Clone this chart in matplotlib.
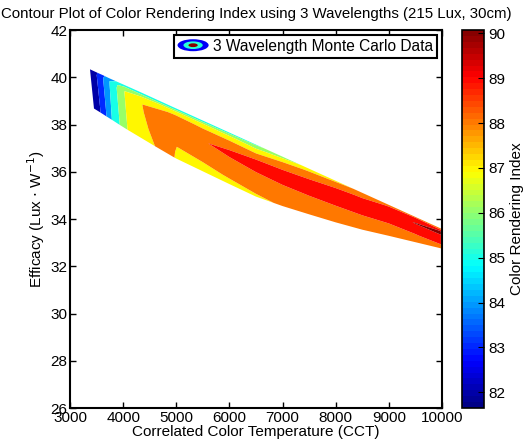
import numpy as np
import matplotlib
matplotlib.use('Agg')
from matplotlib import pyplot as plt
from matplotlib.patches import Ellipse
from matplotlib.legend_handler import HandlerBase
from matplotlib.colors import Normalize, ListedColormap

plt.rcParams['font.family'] = ['Liberation Sans', 'DejaVu Sans']
plt.rcParams['font.size'] = 11

# band edges: columns run from the lower edge (lo) to the upper edge (hi)
cct_lo = [3451, 3580, 3690, 3790, 3940, 4090, 4610, 4960, 5010, 5500, 6000,
          6500, 7000, 7500, 8000, 8500, 9000, 9500, 9980]
cct_hi = [3376, 3500, 3620, 3740, 3870, 4020, 4300, 4960, 5010, 5500, 6000,
          6500, 7000, 7500, 8000, 8500, 9000, 9500, 9980]
eff_lo = [38.68, 38.50, 38.34, 38.20, 37.98, 37.77, 37.07, 36.61, 36.55, 36.02,
          35.48, 34.95, 34.55, 34.20, 33.86, 33.55, 33.29, 33.02, 32.76]
eff_hi = [40.34, 40.21, 40.09, 39.96, 39.83, 39.68, 39.40, 38.72, 38.67, 38.17,
          37.66, 37.15, 36.64, 36.13, 35.62, 35.11, 34.60, 34.09, 33.60]
# position across the band, 0 = lower edge, 1 = upper edge
frac = [0, 0.12, 0.3, 0.45, 0.6, 0.75, 0.85, 0.93, 1.0]

# Color Rendering Index, one row per column above
cri = [
    [82.3, 82.3, 82.3, 82.3, 82.3, 82.3, 82.3, 82.3, 82.3],
    [83.02, 83.02, 83.02, 83.02, 83.02, 83.02, 83.02, 83.02, 82.9],
    [84.02, 84.02, 84.02, 84.02, 84.02, 84.02, 84.02, 84.0, 83.8],
    [85.02, 85.02, 85.02, 85.02, 85.02, 85.02, 85.02, 85.0, 84.6],
    [86.02, 86.02, 86.02, 86.02, 86.02, 86.02, 86.02, 85.9, 85.0],
    [87.05, 87.05, 87.05, 87.05, 87.05, 87.05, 87.05, 86.6, 85.2],
    [88.02, 88.05, 88.1, 88.1, 88.1, 88.05, 87.6, 86.8, 85.0],
    [88.1, 88.2, 88.35, 88.45, 88.5, 88.4, 88.1, 87.2, 85.0],
    [87.3, 87.6, 88.2, 88.45, 88.55, 88.45, 88.1, 87.2, 85.0],
    [87.45, 87.85, 88.3, 88.6, 88.95, 88.6, 87.95, 87.2, 85.2],
    [87.6, 88.05, 88.5, 88.8, 89.2, 88.7, 87.95, 87.1, 85.5],
    [87.8, 88.25, 88.6, 88.95, 89.3, 88.9, 87.8, 86.9, 85.8],
    [88.1, 88.4, 88.7, 89.05, 89.4, 88.95, 88.4, 87.6, 86.5],
    [88.15, 88.45, 88.75, 89.1, 89.4, 89.05, 88.8, 88.1, 87.2],
    [88.2, 88.5, 88.8, 89.1, 89.45, 89.3, 88.9, 88.3, 87.8],
    [88.3, 88.55, 88.85, 89.1, 89.5, 89.4, 89.05, 88.5, 88.1],
    [88.35, 88.6, 88.8, 89.1, 89.5, 89.6, 89.4, 89.1, 88.6],
    [88.4, 88.6, 88.95, 89.3, 89.7, 90.05, 89.6, 89.2, 88.8],
    [88.3, 88.75, 89.3, 89.6, 89.8, 90.15, 90.05, 89.0, 88.7],
]
cri_levels = [82, 83, 84, 85, 86, 87, 88, 89, 90, 91]
cbar_ticks = [82, 83, 84, 85, 86, 87, 88, 89, 90]

f = np.array(frac)[None, :]
X = np.array(cct_lo)[:, None] * (1 - f) + np.array(cct_hi)[:, None] * f
Y = np.array(eff_lo)[:, None] * (1 - f) + np.array(eff_hi)[:, None] * f
Z = np.array(cri)

# MATLAB style jet(64)
t = (np.arange(64) + 0.5) / 64
jet_rgb = np.stack([np.clip(1.5 - np.abs(4 * t - k), 0, 1) for k in (3, 2, 1)], axis=1)
cmap = ListedColormap(jet_rgb)
norm = Normalize(vmin=81.65, vmax=90.07)
fill_colors = [cmap(norm(l)) for l in cri_levels[:-1]]


class HandlerContour(HandlerBase):
    def create_artists(self, legend, orig_handle, xdescent, ydescent,
                       width, height, fontsize, trans):
        cx = width / 2 - xdescent
        cy = height / 2 - ydescent
        out = []
        for w, h, c in [(1.0, 1.1, cmap(norm(82.6))), (0.62, 0.7, cmap(norm(85.2))),
                        (0.3, 0.35, cmap(norm(90.0)))]:
            e = Ellipse((cx, cy), width * w, height * h, facecolor=c,
                        edgecolor='none', transform=trans)
            out.append(e)
        return out


fig = plt.figure(figsize=(5.28, 4.42), dpi=100)
ax = fig.add_axes([0.1326, 0.0769, 0.7045, 0.855])
cax = fig.add_axes([0.875, 0.0769, 0.042, 0.855])

cs = ax.contourf(X, Y, Z, levels=cri_levels, colors=fill_colors, antialiased=True)

ax.set_xlim(3000, 10000)
ax.set_ylim(26, 42)
ax.set_xticks(range(3000, 10001, 1000))
ax.set_yticks(range(26, 43, 2))
ax.tick_params(direction='in', top=True, right=True, length=4, width=1, labelsize=11, pad=2)
for s in ax.spines.values():
    s.set_linewidth(1.5)

ax.set_xlabel('Correlated Color Temperature (CCT)', fontsize=11, labelpad=0)
ax.set_ylabel(r'Efficacy (Lux $\cdot$ W$^{-1}$)', fontsize=11, labelpad=2)
ax.set_title('Contour Plot of Color Rendering Index using 3 Wavelengths (215 Lux, 30cm)',
             fontsize=10.8, pad=8.5)

proxy = Ellipse((0, 0), 1, 1)
leg = ax.legend([proxy], ['3 Wavelength Monte Carlo Data'], handler_map={Ellipse: HandlerContour()},
                loc='upper right', fontsize=11.2, fancybox=False, framealpha=1,
                borderaxespad=0.3, handlelength=2.0, handletextpad=0.3, borderpad=0.25)
leg.get_frame().set_edgecolor('black')
leg.get_frame().set_linewidth(1.5)

sm = plt.cm.ScalarMappable(norm=norm, cmap=cmap)
cb = fig.colorbar(sm, cax=cax, ticks=cbar_ticks)
cb.ax.tick_params(direction='in', length=4, labelsize=11, pad=3)
cb.outline.set_linewidth(1.2)
cb.set_label('Color Rendering Index', fontsize=11, labelpad=3)

plt.savefig('out.png', dpi=100)
